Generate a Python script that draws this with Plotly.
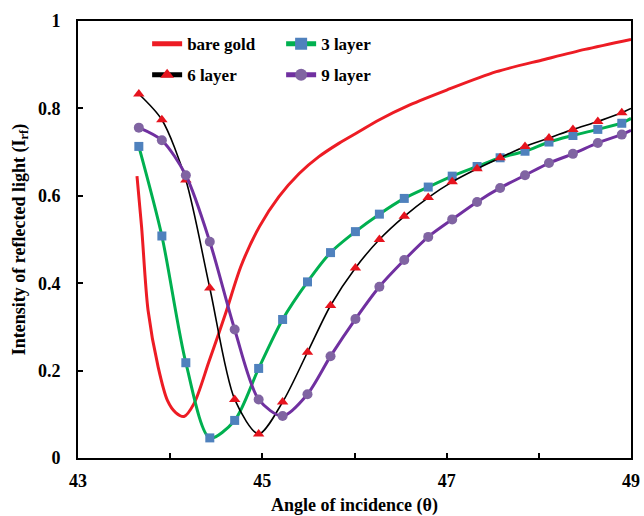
import plotly.graph_objects as go

# ---- data ----
angle_markers = [43.66, 43.91, 44.17, 44.43, 44.70, 44.96, 45.22, 45.49, 45.74, 46.01,
                 46.27, 46.54, 46.80, 47.06, 47.33, 47.58, 47.85, 48.11, 48.37, 48.64, 48.90]
angle_end = [48.90, 49.0]

layer3 = [0.713, 0.508, 0.218, 0.046, 0.086, 0.205, 0.317, 0.403, 0.470, 0.518,
          0.558, 0.594, 0.620, 0.645, 0.667, 0.687, 0.702, 0.723, 0.738, 0.752, 0.766]
layer3_end = [0.766, 0.777]

layer6 = [0.833, 0.774, 0.636, 0.389, 0.134, 0.055, 0.128, 0.242, 0.349, 0.435,
          0.500, 0.553, 0.596, 0.632, 0.662, 0.687, 0.713, 0.732, 0.752, 0.770, 0.790]
layer6_end = [0.790, 0.800]

layer9 = [0.756, 0.727, 0.647, 0.495, 0.294, 0.134, 0.096, 0.146, 0.233, 0.318,
          0.392, 0.453, 0.506, 0.546, 0.586, 0.618, 0.647, 0.675, 0.696, 0.721, 0.740]
layer9_end = [0.740, 0.750]

gold_x = [43.64, 43.69, 43.76, 43.87, 43.97, 44.06, 44.15, 44.26, 44.42, 44.60, 44.77,
          44.97, 45.18, 45.40, 45.61, 45.83, 46.05, 46.26, 46.60, 47.00, 47.54, 48.06,
          48.50, 49.00]
gold_y = [0.645, 0.529, 0.338, 0.208, 0.132, 0.104, 0.095, 0.125, 0.220, 0.330, 0.440,
          0.530, 0.598, 0.651, 0.689, 0.720, 0.747, 0.773, 0.808, 0.842, 0.884, 0.912,
          0.935, 0.958]

x_tickvals = [43, 45, 47, 49]
x_ticktext = ["43", "45", "47", "49"]
y_tickvals = [0, 0.2, 0.4, 0.6, 0.8, 1.0]
y_ticktext = ["0", "0.2", "0.4", "0.6", "0.8", "1"]

FONT = "Liberation Serif"
RED = "rgb(237,28,36)"
GREEN = "rgb(0,176,80)"
BLUE = "rgb(79,129,189)"
BLACK = "black"
PURPLE_LINE = "rgb(112,48,160)"
PURPLE_MK = "rgb(128,100,162)"

fig = go.Figure()

fig.add_trace(go.Scatter(x=gold_x, y=gold_y, mode="lines", name="<b>bare gold</b>",
                         line=dict(color=RED, width=3, shape="spline", smoothing=0.8),
                         legend="legend"))

def add_series(y, yend, name, lcolor, lwidth, symbol, mcolor, msize, legend):
    fig.add_trace(go.Scatter(x=angle_end, y=yend, mode="lines", showlegend=False,
                             line=dict(color=lcolor, width=lwidth)))
    fig.add_trace(go.Scatter(x=angle_markers, y=y, mode="lines+markers", name=name,
                             line=dict(color=lcolor, width=lwidth, shape="spline", smoothing=0.8),
                             marker=dict(symbol=symbol, color=mcolor, size=msize,
                                         line=dict(width=0)),
                             legend=legend))

add_series(layer3, layer3_end, "<b>3 layer</b>", GREEN, 3, "square", BLUE, 9, "legend")
add_series(layer6, layer6_end, "<b>6 layer</b>", BLACK, 1.6, "triangle-up", "rgb(230,20,30)", 10, "legend2")
add_series(layer9, layer9_end, "<b>9 layer</b>", PURPLE_LINE, 3, "circle", PURPLE_MK, 10, "legend2")

axis_common = dict(showline=True, linecolor="black", linewidth=2, mirror=True,
                   ticks="inside", ticklen=5, tickwidth=1.5, tickcolor="black",
                   showgrid=False, zeroline=False,
                   tickfont=dict(family=FONT, size=18, color="black"))

fig.update_xaxes(range=[43, 49], tickvals=x_tickvals, ticktext=["<b>%s</b>" % t for t in x_ticktext],
                 minor=dict(tickmode="linear", tick0=43, dtick=1, ticks="inside", ticklen=5,
                            tickwidth=1.5, tickcolor="black", showgrid=False),
                 title=dict(text="<b>Angle of incidence (θ)</b>", font=dict(family=FONT, size=18, color="black"),
                            standoff=17),
                 ticklabelstandoff=5, automargin=False, **axis_common)
fig.update_yaxes(range=[0, 1], tickvals=y_tickvals, ticktext=["<b>%s</b>" % t for t in y_ticktext],
                 title=dict(text="<b>Intensity of reflected light (I<sub>rf</sub>)</b>",
                            font=dict(family=FONT, size=18, color="black"), standoff=8),
                 ticklabelstandoff=12, **axis_common)

legend_common = dict(orientation="h", entrywidth=89, entrywidthmode="pixels",
                     bgcolor="rgba(0,0,0,0)", borderwidth=0,
                     font=dict(family=FONT, size=17, color="black"),
                     xanchor="left", yanchor="middle", itemsizing="constant")

fig.update_layout(
    width=644, height=516,
    margin=dict(l=78, r=11, t=21, b=58),
    paper_bgcolor="white", plot_bgcolor="white",
    font=dict(family=FONT, color="black"),
    legend=dict(x=0.125, y=0.947, **legend_common),
    legend2=dict(x=0.125, y=0.876, **legend_common),
)

fig.write_html("out.html")
